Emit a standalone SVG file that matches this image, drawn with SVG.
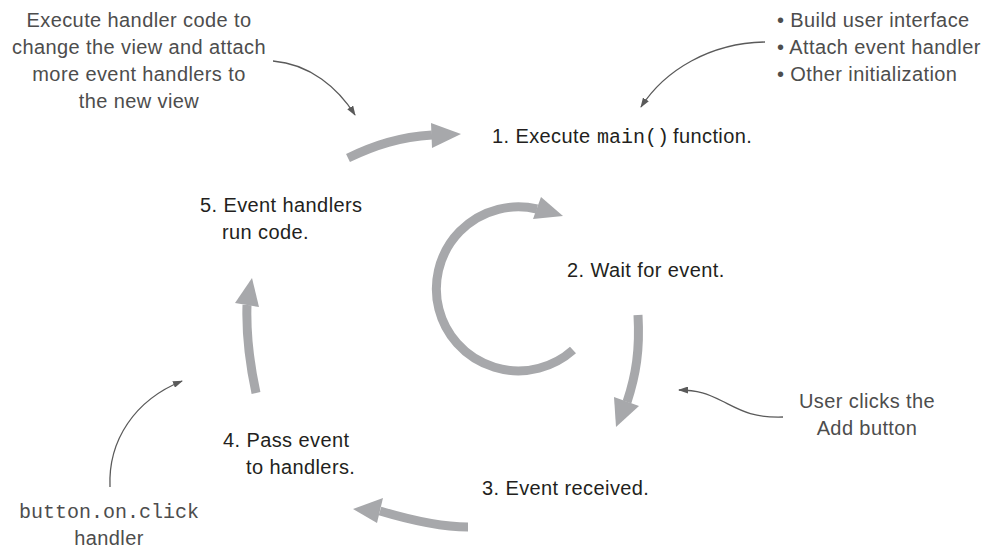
<svg xmlns="http://www.w3.org/2000/svg" width="998" height="552" viewBox="0 0 998 552">
<style>
  .step { font-family: "Liberation Sans", Arial, sans-serif; font-size: 20px; letter-spacing: 0.4px; fill: #231f20; }
  .note { font-family: "Liberation Sans", Arial, sans-serif; font-size: 20px; letter-spacing: 0.4px; fill: #4d4d4d; }
  .mono { font-family: "Liberation Mono", "Courier New", monospace; font-size: 20px; letter-spacing: 0; }
  .big { fill: none; stroke: #a7a8ab; stroke-width: 9; }
  .head { fill: #a7a8ab; }
  .thin { fill: none; stroke: #5a5a5a; stroke-width: 1.3; marker-end: url(#ah); }
</style>
<defs>
  <marker id="ah" viewBox="0 0 10 10" refX="9" refY="5" markerWidth="10" markerHeight="7" markerUnits="userSpaceOnUse" orient="auto" preserveAspectRatio="none">
    <path d="M0,0 L10,5 L0,10 z" fill="#5a5a5a"/>
  </marker>
</defs>
<rect width="998" height="552" fill="#ffffff"/>

<g id="connectors">
  <!-- 1 -> 2 loop arrows (big gray) -->
  <g id="big-arrow-5-1">
    <path class="big" d="M 348 158 C 375 145 400 137 432 135"/>
    <polygon class="head" points="461,134 431,123 432,148"/>
  </g>
  <g id="big-arrow-wait">
    <path class="big" d="M 573 350 A 82 82 0 1 1 537 209"/>
    <polygon class="head" points="563,216 541,197 533,219"/>
  </g>
  <g id="big-arrow-2-3">
    <path class="big" d="M 638 315 C 640 350 636 375 627 402"/>
    <polygon class="head" points="616,427 614,397 639,406"/>
  </g>
  <g id="big-arrow-3-4">
    <path class="big" d="M 468 527 C 440 527 410 520 380 511"/>
    <polygon class="head" points="353,509 383,498 377,523"/>
  </g>
  <g id="big-arrow-4-5">
    <path class="big" d="M 256 393 C 250 365 246 335 247 305"/>
    <polygon class="head" points="252,278 235,303 259,307"/>
  </g>
  <!-- thin annotation arrows -->
  <path class="thin" d="M 273 61 C 310 64 338 88 355 115"/>
  <path class="thin" d="M 765 42 C 710 43 665 70 641 107"/>
  <path class="thin" d="M 783 417 C 752 418 740 410 722 401 C 708 394 698 390 679 390"/>
  <path class="thin" d="M 110 487 C 108 440 135 400 182 381"/>
</g>

<g id="step1">
  <text class="step" x="492" y="143">1. Execute <tspan class="mono" x="597">main()</tspan><tspan x="673">function.</tspan></text>
</g>
<g id="step2">
  <text class="step" x="567" y="277">2. Wait for event.</text>
</g>
<g id="step3">
  <text class="step" x="482" y="495">3. Event received.</text>
</g>
<g id="step4">
  <text class="step" x="223" y="447">4. Pass event</text>
  <text class="step" x="246" y="474">to handlers.</text>
</g>
<g id="step5">
  <text class="step" x="200" y="212">5. Event handlers</text>
  <text class="step" x="222" y="239">run code.</text>
</g>

<g id="note-handler-code">
  <text class="note" text-anchor="middle" x="139" y="27">Execute handler code to</text>
  <text class="note" text-anchor="middle" x="139" y="54">change the view and attach</text>
  <text class="note" text-anchor="middle" x="139" y="81">more event handlers to</text>
  <text class="note" text-anchor="middle" x="139" y="108">the new view</text>
</g>
<g id="note-main">
  <text class="note" x="777" y="27">• Build user interface</text>
  <text class="note" x="777" y="54">• Attach event handler</text>
  <text class="note" x="777" y="81">• Other initialization</text>
</g>
<g id="note-user-click">
  <text class="note" text-anchor="middle" x="867" y="408">User clicks the</text>
  <text class="note" text-anchor="middle" x="867" y="435">Add button</text>
</g>
<g id="note-button">
  <text class="note mono" text-anchor="middle" x="109" y="518">button.on.click</text>
  <text class="note" text-anchor="middle" x="109" y="545">handler</text>
</g>
</svg>
